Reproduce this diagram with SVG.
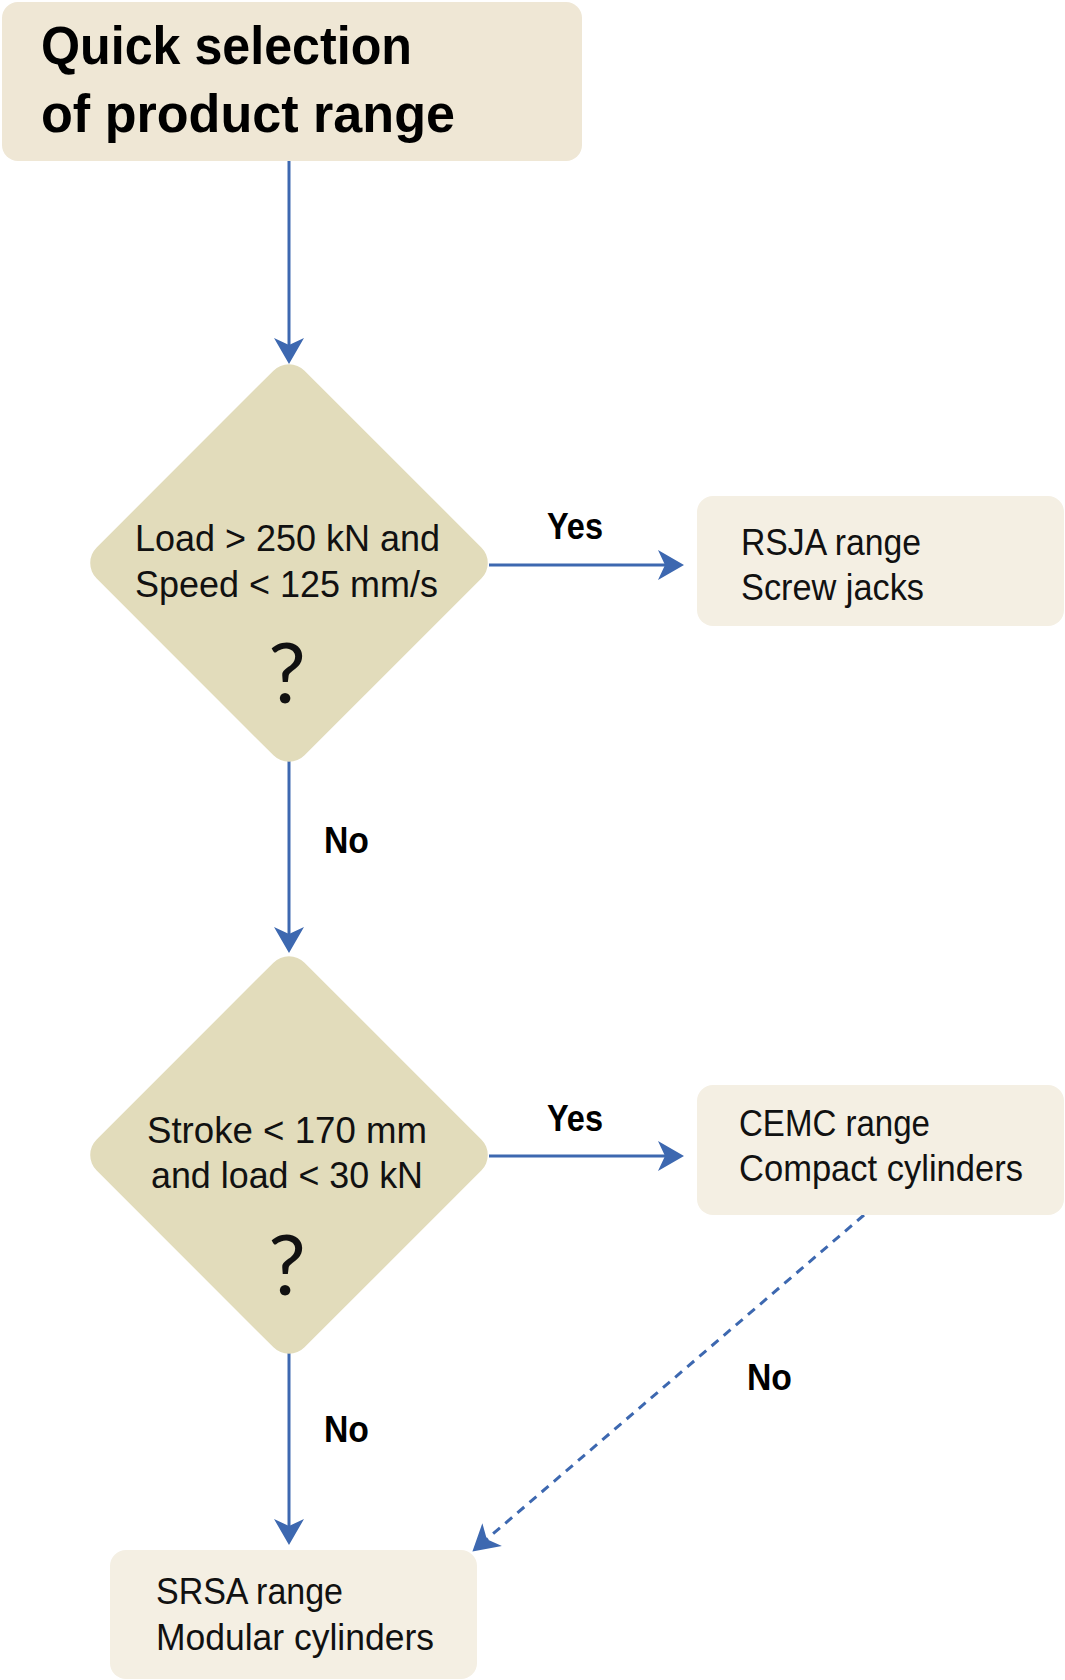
<svg xmlns="http://www.w3.org/2000/svg" width="1065" height="1680" viewBox="0 0 1065 1680">
<style>
.title{font-family:"Liberation Sans",Arial,sans-serif;font-size:54px;font-weight:bold;fill:#000}
.t{font-family:"Liberation Sans",Arial,sans-serif;font-size:36px;fill:#111}
.q{font-family:"Lato","Open Sans",sans-serif;font-size:84px;font-weight:normal;fill:#111}
.lbl{font-family:"Liberation Sans",Arial,sans-serif;font-size:36px;font-weight:bold;fill:#000}
.dia{fill:#e2dcbb}
.res{fill:#f4efe3}
.conn{stroke:#3d68b0;stroke-width:3;fill:none}
.dash{stroke-dasharray:9 7}
</style>
<defs>
<marker id="ah" markerUnits="userSpaceOnUse" viewBox="-18 -17 30 34" markerWidth="30" markerHeight="34" refX="0" refY="0" orient="auto">
<path d="M10,0 L-16,-15 L-9,0 L-16,15 Z" fill="#3d68b0"/>
</marker>
</defs>
<g id="connectors">
<line class="conn" x1="289" y1="161" x2="289" y2="354" marker-end="url(#ah)"/>
<line class="conn" x1="489" y1="565" x2="674" y2="565" marker-end="url(#ah)"/>
<line class="conn" x1="289" y1="761" x2="289" y2="943" marker-end="url(#ah)"/>
<line class="conn" x1="489" y1="1156" x2="674" y2="1156" marker-end="url(#ah)"/>
<line class="conn" x1="289" y1="1352" x2="289" y2="1535" marker-end="url(#ah)"/>
<line class="conn dash" x1="864" y1="1215" x2="480" y2="1545" marker-end="url(#ah)"/>
<text class="lbl" x="547" y="539" textLength="56" lengthAdjust="spacingAndGlyphs">Yes</text>
<text class="lbl" x="324" y="853" textLength="45" lengthAdjust="spacingAndGlyphs">No</text>
<text class="lbl" x="547" y="1131" textLength="56" lengthAdjust="spacingAndGlyphs">Yes</text>
<text class="lbl" x="324" y="1442" textLength="45" lengthAdjust="spacingAndGlyphs">No</text>
<text class="lbl" x="747" y="1390" textLength="45" lengthAdjust="spacingAndGlyphs">No</text>
</g>
<g id="start">
<rect x="2" y="2" width="580" height="159" rx="16" fill="#efe7d5"/>
<text class="title" x="41" y="64" textLength="371" lengthAdjust="spacingAndGlyphs">Quick selection</text>
<text class="title" x="41" y="132" textLength="414" lengthAdjust="spacingAndGlyphs">of product range</text>
</g>
<g id="decision1">
<rect class="dia" x="-147" y="-147" width="294" height="294" rx="22" transform="translate(289,563) rotate(45)"/>
<text class="t" x="135" y="551" textLength="305" lengthAdjust="spacingAndGlyphs">Load &gt; 250 kN and</text>
<text class="t" x="135" y="597" textLength="303" lengthAdjust="spacingAndGlyphs">Speed &lt; 125 mm/s</text>
<text class="q" x="287" y="703" text-anchor="middle">?</text>
</g>
<g id="rsja">
<rect class="res" x="697" y="496" width="367" height="130" rx="16"/>
<text class="t" x="741" y="555" textLength="180" lengthAdjust="spacingAndGlyphs">RSJA range</text>
<text class="t" x="741" y="600" textLength="183" lengthAdjust="spacingAndGlyphs">Screw jacks</text>
</g>
<g id="decision2">
<rect class="dia" x="-147" y="-147" width="294" height="294" rx="22" transform="translate(289,1155) rotate(45)"/>
<text class="t" x="147" y="1143" textLength="280" lengthAdjust="spacingAndGlyphs">Stroke &lt; 170 mm</text>
<text class="t" x="151" y="1188" textLength="272" lengthAdjust="spacingAndGlyphs">and load &lt; 30 kN</text>
<text class="q" x="287" y="1295" text-anchor="middle">?</text>
</g>
<g id="cemc">
<rect class="res" x="697" y="1085" width="367" height="130" rx="16"/>
<text class="t" x="739" y="1136" textLength="191" lengthAdjust="spacingAndGlyphs">CEMC range</text>
<text class="t" x="739" y="1181" textLength="284" lengthAdjust="spacingAndGlyphs">Compact cylinders</text>
</g>
<g id="srsa">
<rect class="res" x="110" y="1550" width="367" height="129" rx="16"/>
<text class="t" x="156" y="1604" textLength="187" lengthAdjust="spacingAndGlyphs">SRSA range</text>
<text class="t" x="156" y="1650" textLength="278" lengthAdjust="spacingAndGlyphs">Modular cylinders</text>
</g>
</svg>
